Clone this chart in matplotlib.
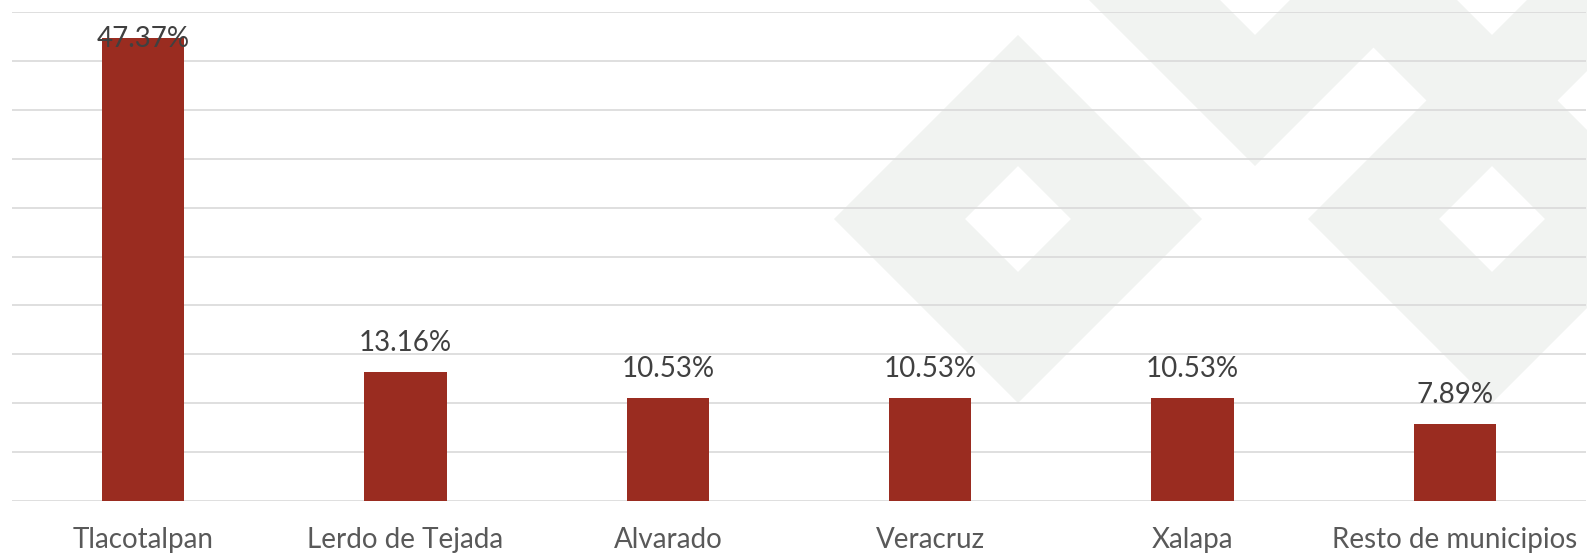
import matplotlib
matplotlib.use("Agg")
import matplotlib.pyplot as plt
from matplotlib.path import Path
from matplotlib.patches import PathPatch
import numpy as np

categories = ["Tlacotalpan", "Lerdo de Tejada", "Alvarado", "Veracruz", "Xalapa", "Resto de municipios"]
values = [47.37, 13.16, 10.53, 10.53, 10.53, 7.89]
labels = ["47.37%", "13.16%", "10.53%", "10.53%", "10.53%", "7.89%"]

W, H = 1587, 556
fig = plt.figure(figsize=(W / 100, H / 100), dpi=100)
fig.patch.set_facecolor("white")

# background watermark (decorative diamonds, in pixel coords of the image, y from top)
def ring(cx, cy, R, r):
    cy = H - cy
    outer = [(cx, cy + R), (cx + R, cy), (cx, cy - R), (cx - R, cy), (cx, cy + R)]
    inner = [(cx, cy + r), (cx - r, cy), (cx, cy - r), (cx + r, cy), (cx, cy + r)]
    verts = outer + inner
    codes = [Path.MOVETO] + [Path.LINETO] * 3 + [Path.CLOSEPOLY] + [Path.MOVETO] + [Path.LINETO] * 3 + [Path.CLOSEPOLY]
    return Path(verts, codes)

for (cx, cy) in [(1018, 219), (1255, -18), (1492, 219), (1492, -18)]:
    p = PathPatch(ring(cx, cy, 184, 53), facecolor="#F1F3F1", edgecolor="none", transform=None, zorder=0)
    fig.patches.append(p)

ax = fig.add_axes([12 / W, (H - 501) / H, (1586 - 12) / W, (501 - 12) / H])
ax.set_facecolor("none")
ax.set_zorder(1)

x = np.arange(len(categories))
ax.bar(x, values, width=0.313, color="#9A2C20", zorder=3)

ax.set_ylim(0, 50)
ax.set_xlim(-0.5, len(categories) - 0.5)
ax.set_yticks(np.arange(0, 50.1, 5))
ax.yaxis.grid(True, color="#D9D9D9", linewidth=1.2, zorder=1)
ax.set_axisbelow(True)
ax.tick_params(axis="y", left=False, labelleft=False)
ax.tick_params(axis="x", bottom=False, pad=15)
for s in ["top", "right", "left", "bottom"]:
    ax.spines[s].set_visible(False)

ax.set_xticks(x)
ax.set_xticklabels(categories, fontfamily="Lato", fontsize=20, color="#595959")

for xi, v, lab in zip(x, values, labels):
    if v > 45:
        off = -7
    else:
        off = 15
    ax.annotate(lab, (xi, v), xytext=(0, off), textcoords="offset points",
                ha="center", va="baseline", fontfamily="Lato", fontsize=20,
                color="#404040", zorder=4, annotation_clip=False)

fig.savefig("out.png", dpi=100, facecolor="white")
